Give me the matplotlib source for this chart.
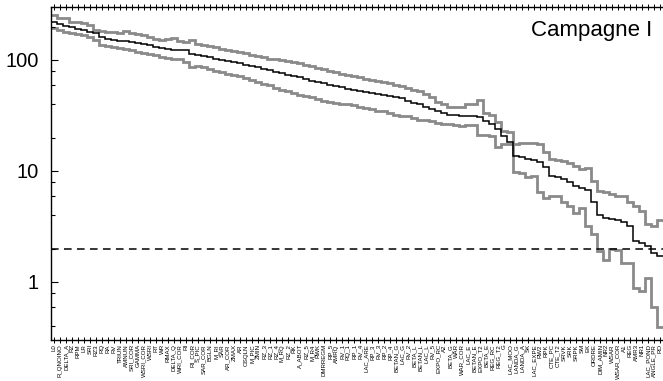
import numpy as np
import matplotlib
matplotlib.use("Agg")
import matplotlib.pyplot as plt
from matplotlib.ticker import FixedLocator, NullFormatter

plt.rcParams['font.family'] = ['Liberation Sans', 'DejaVu Sans']

# Variable names, ordered by decreasing median value
labels = [
    "L0", "R_QNOINO", "DELTA_A", "RZ", "RPM", "LR", "SRI", "RZ3", "RQ", "RA",
    "RV", "TRIUN", "AMNUN", "SRI_COR", "GAMMA", "WSRI_COR", "WSRI", "RT", "WR", "RMAX",
    "DELTA_Q", "WRI_COR", "RI", "RI_COR", "S_PIC", "SAR_COR", "BGLN", "M_RI", "SAR", "AR_COR",
    "ZMAX", "AR", "OSQLN", "M_PIC", "ZMIN", "RZ_3", "RZ_1", "RZ_4", "M_RQ", "RZ_2",
    "RK", "A_ABOT", "RZ_5", "M_R4", "RWK", "DMRREGM", "RP_5", "AMRQ", "RV_1", "RQ_1",
    "RP_1", "RV_4", "LAC_ARE", "RP_3", "RV_3", "RP_2", "RP_4", "BETAN_G", "LAC_G", "RV_2",
    "BETA_L", "BETAN_L", "LAC_L", "RV_5", "EXPO_RC", "A2", "BETA_G", "WAR", "WAR_COR", "LAC_E",
    "BETAN_E", "EXPO_T2", "BETA_E", "REG_RC", "REG_T2", "G", "LAC_MOO", "LANDA_G", "LANDA_A", "SK",
    "LAC_EXPE", "RW2", "RPK", "CTE_PC", "CTE_T2", "SRVK", "SRK", "SRPK", "SM", "EK",
    "ORDRE", "DIM_AMIN", "NR2", "WSAR", "WSAR_COR", "A1", "REG", "AMR3", "NR1", "LAC_POND",
    "ANGLE_PR", "RO",
]

# Median of each variable
median = [
    218, 209, 201, 197, 189, 185, 178, 174, 160, 154,
    151, 149, 148, 145, 142, 139, 136, 130, 128, 125,
    124, 123, 122, 113, 111, 108, 106, 103, 100, 98,
    95, 93, 90.5, 88, 86, 83, 81, 78, 76, 73,
    71, 70, 67, 65, 63, 62, 60, 58, 56.5, 55,
    53.5, 52, 51, 50, 49, 48, 47, 46, 45, 42.5,
    41, 40.5, 38, 36, 34.5, 33, 32, 32, 31.5, 31,
    31, 30.5, 28, 26.3, 23.7, 20.5, 18.2, 13.6, 13.3, 12.8,
    12.5, 12.0, 10.9, 9.0, 8.8, 8.5, 8.0, 7.3, 7.05, 6.8,
    5.3, 4.0, 3.8, 3.7, 3.6, 3.45, 3.2, 2.32, 2.23, 2.1,
    1.81, 1.70,
]

# Upper bound of the interval
upper = [
    252, 241, 237, 222, 218, 214, 205, 185, 181, 178,
    178, 174, 181, 174, 171, 167, 160, 154, 151, 154,
    157, 148, 145, 151, 139, 136, 133, 130, 125, 123,
    120, 118, 115, 111, 108, 106, 103, 101, 100, 98,
    96, 94, 91, 88, 85, 83, 80, 78, 75, 73,
    71, 70, 68, 66, 65, 63, 62, 60, 58, 56,
    54, 52, 49, 46, 42, 40, 38, 38, 38, 40,
    40, 44, 33.5, 32, 27.4, 22.7, 22.3, 17.4, 17.8, 17.8,
    17.8, 17.4, 14.8, 12.8, 12.5, 12.3, 11.8, 11.1, 10.4, 10.6,
    8.2, 6.6, 6.5, 6.25, 6.0, 6.0, 5.3, 4.8, 4.4, 3.3,
    3.16, 3.6,
]

# Lower bound of the interval
lower = [
    193, 185, 178, 174, 171, 167, 160, 151, 136, 133,
    131, 128, 125, 123, 118, 115, 113, 111, 106, 104,
    103, 102, 96, 87, 88, 87, 83, 80, 78, 75,
    73, 71, 69, 66, 63, 61, 59, 56, 54, 52,
    50, 48, 47, 46, 44.5, 43, 42, 41, 40, 40,
    39, 38, 37, 36, 35, 34.5, 33.5, 32, 31.5, 31,
    30, 29, 28.5, 28, 27, 26.5, 26.3, 25.7, 25.2, 25.7,
    25.7, 21, 21, 20.5, 16.4, 17.4, 17.4, 9.8, 9.6, 8.8,
    9.0, 6.5, 5.75, 6.0, 5.9, 5.3, 4.8, 4.2, 4.6, 3.16,
    2.7, 1.89, 1.57, 1.97, 1.93, 1.48, 1.48, 0.88, 0.83, 1.09,
    0.59, 0.39,
]

threshold = 2.0
title = "Campagne I"

n = len(labels)
pos = np.arange(n)
edges = np.concatenate([[pos[0] - 0.5], pos + 0.5])

fig = plt.figure(figsize=(6.63, 3.81), dpi=100)
ax = fig.add_axes([51 / 663, 1 - 340 / 381, 612 / 663, 333 / 381])

gray = "#8a8a8a"
ax.stairs(upper, edges, baseline=None, color=gray, linewidth=2.0)
ax.stairs(lower, edges, baseline=None, color=gray, linewidth=2.0)
ax.stairs(median, edges, baseline=None, color="black", linewidth=1.1)
ax.axhline(threshold, color="black", linewidth=1.1, linestyle=(0, (5, 3.5)))

ax.set_yscale("log")
ax.set_ylim(0.3, 300)
ax.set_xlim(edges[0], edges[-1])

ax.yaxis.set_major_locator(FixedLocator([1, 10, 100]))
ax.set_yticklabels(["1", "10", "100"], fontsize=14.5)
minor = [m * d for d in (0.1, 1, 10, 100) for m in (2, 4, 6, 8)]
ax.yaxis.set_minor_locator(FixedLocator(minor))
ax.yaxis.set_minor_formatter(NullFormatter())
ax.tick_params(axis="y", which="major", direction="in", length=5, width=0.8, pad=9)
ax.tick_params(axis="y", which="minor", direction="in", length=3, width=0.8)

ax.set_xticks(pos)
ax.set_xticklabels(labels, rotation=90, fontsize=4.4)
ax.tick_params(axis="x", which="major", direction="inout", length=4, width=0.7,
               top=True, pad=1)

for side in ("left", "bottom", "top"):
    ax.spines[side].set_linewidth(1.0)
ax.spines["right"].set_visible(False)

ax.text(0.982, 0.93, title, transform=ax.transAxes, ha="right", va="center",
        fontsize=16)

fig.savefig("out.png", dpi=100)
